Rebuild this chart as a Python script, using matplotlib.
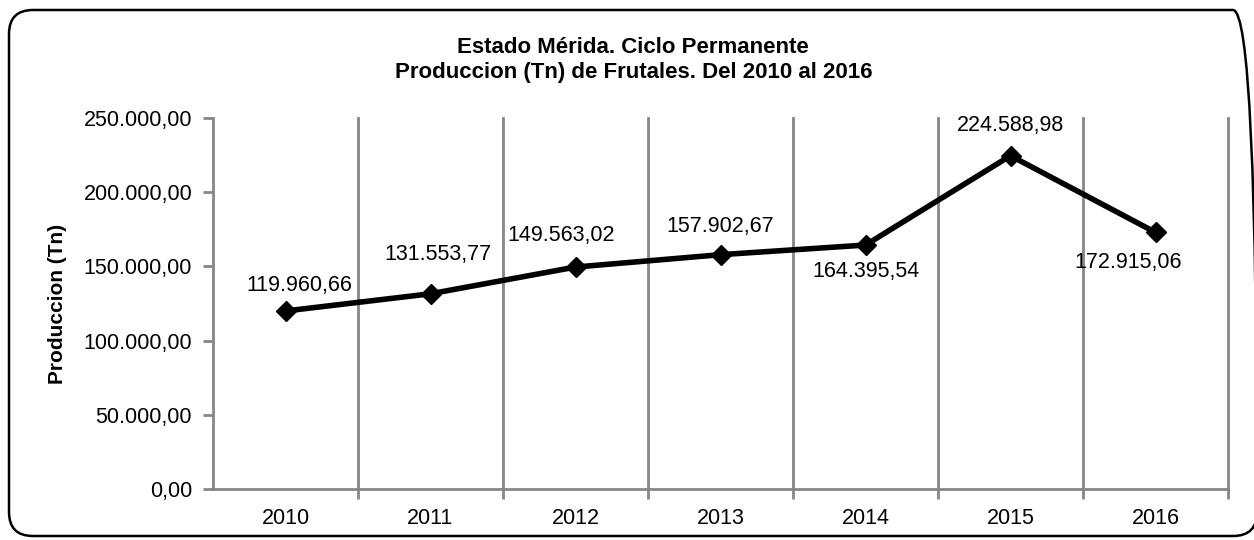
import matplotlib.pyplot as plt
from matplotlib.patches import FancyBboxPatch
from matplotlib.ticker import FuncFormatter, MultipleLocator

plt.rcParams['font.family'] = ['Liberation Sans', 'DejaVu Sans']

# Data
years = ['2010', '2011', '2012', '2013', '2014', '2015', '2016']
produccion = [119960.66, 131553.77, 149563.02, 157902.67, 164395.54, 224588.98, 172915.06]
# label placement per point: offset in points (dx, dy)
label_offsets = [(10, 18), (5, 28), (-10, 23), (0, 20), (0, -19), (0, 22), (-20, -22)]


def fmt_es(v, pos=None):
    s = f'{v:,.2f}'
    return s.replace(',', 'X').replace('.', ',').replace('X', '.')


fig = plt.figure(figsize=(12.54, 5.4), dpi=100)

# rounded outer border (right edge sits just off the picture)
box = FancyBboxPatch((9, 4), 1248, 526, boxstyle='round,pad=0,rounding_size=24',
                     transform=None, facecolor='none', edgecolor='black',
                     linewidth=1.8, zorder=-1)
fig.patches.append(box)

ax = fig.add_axes([213 / 1254, 51 / 540, 1015 / 1254, 371 / 540])
ax.set_facecolor('none')

x = list(range(len(years)))
ax.plot(x, produccion, color='black', linewidth=4, marker='D', markersize=10, zorder=3)

for xi, v, (dx, dy) in zip(x, produccion, label_offsets):
    ax.annotate(fmt_es(v), (xi, v), xytext=(dx, dy), textcoords='offset points',
                ha='center', va='center', fontsize=15.5)

ax.set_xlim(-0.5, len(years) - 0.5)
ax.set_ylim(0, 250000)
ax.yaxis.set_major_locator(MultipleLocator(50000))
ax.yaxis.set_major_formatter(FuncFormatter(fmt_es))

ax.set_xticks(x)
ax.set_xticklabels(years)
ax.set_xticks([i + 0.5 for i in x], minor=True)
ax.tick_params(axis='x', which='major', length=0, pad=14, labelsize=15.5)
ax.tick_params(axis='x', which='minor', length=7, width=2, color='#868686')
ax.tick_params(axis='y', length=7, width=2, color='#868686', labelsize=15.5, pad=8)
ax.grid(True, axis='x', which='minor', color='#868686', linewidth=2)
for t in ax.xaxis.get_minor_ticks():
    t.gridline.set_clip_on(False)

for side in ['top', 'right']:
    ax.spines[side].set_visible(False)
for side in ['left', 'bottom']:
    ax.spines[side].set_color('#868686')
    ax.spines[side].set_linewidth(2)

ax.set_ylabel('Produccion (Tn)', fontsize=15, fontweight='bold', labelpad=12)

fig.text(0.505, 0.912, 'Estado Mérida. Ciclo Permanente', ha='center', va='center',
         fontsize=16, fontweight='bold')
fig.text(0.505, 0.865, 'Produccion (Tn) de Frutales. Del 2010 al 2016', ha='center',
         va='center', fontsize=16, fontweight='bold')

fig.savefig('out.png', dpi=100)
